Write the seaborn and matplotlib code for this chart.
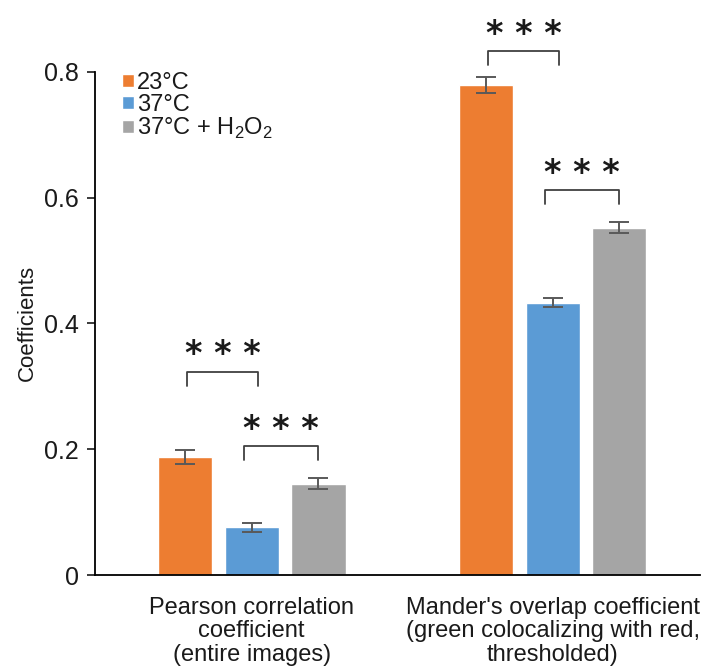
import pandas as pd
import seaborn as sns
import matplotlib.pyplot as plt

CATEGORIES = ['Pearson correlation\ncoefficient\n(entire images)',
              "Mander's overlap coefficient\n(green colocalizing with red,\nthresholded)"]
CONDITIONS = ['23°C', '37°C', '37°C + H$_2$O$_2$']
MEANS = {
    '23°C': [0.188, 0.779],
    '37°C': [0.076, 0.433],
    '37°C + H$_2$O$_2$': [0.145, 0.552],
}
ERRORS = {
    '23°C': [0.011, 0.012],
    '37°C': [0.007, 0.007],
    '37°C + H$_2$O$_2$': [0.009, 0.009],
}
# (category index, hue index a, hue index b, bracket top)
BRACKETS = [(0, 0, 1, 0.323), (0, 1, 2, 0.205), (1, 0, 1, 0.833), (1, 1, 2, 0.612)]
COLORS = ['#ED7D31', '#5B9BD5', '#A5A5A5']

rows = []
for cond in CONDITIONS:
    for i, cat in enumerate(CATEGORIES):
        rows.append({'category': cat, 'condition': cond, 'value': MEANS[cond][i], 'err': ERRORS[cond][i]})
df = pd.DataFrame(rows)

sns.set_style('white')
plt.rcParams['font.family'] = ['Liberation Sans', 'DejaVu Sans']
plt.rcParams['mathtext.fontset'] = 'custom'
plt.rcParams['mathtext.rm'] = 'Liberation Sans'
plt.rcParams['text.color'] = '#1a1a1a'
plt.rcParams['axes.labelcolor'] = '#1a1a1a'
plt.rcParams['xtick.color'] = '#1a1a1a'
plt.rcParams['ytick.color'] = '#1a1a1a'

fig = plt.figure(figsize=(7.05, 6.71), dpi=100)
ax = fig.add_axes([0.135, 0.143, 0.858, 0.750])

sns.barplot(data=df, x='category', y='value', hue='condition', order=CATEGORIES,
            hue_order=CONDITIONS, palette=COLORS, width=0.666, gap=0.19,
            errorbar=None, saturation=1, ax=ax)

centers = {}
bar_groups = list(ax.containers)
for h, cont in enumerate(bar_groups):
    cond = CONDITIONS[h]
    for i, bar in enumerate(cont):
        x = bar.get_x() + bar.get_width() / 2
        centers[(i, h)] = x
        ax.errorbar(x, MEANS[cond][i], yerr=ERRORS[cond][i], color='#595959',
                    capsize=7, elinewidth=1.4, capthick=1.4)

for cat, a, b, top in BRACKETS:
    xa, xb = centers[(cat, a)], centers[(cat, b)]
    if a == 0:
        xa, xb = xa + 0.008, xb + 0.02
    else:
        xa = xa - 0.025
    ax.plot([xa, xa, xb, xb], [top - 0.022, top, top, top - 0.022], color='#404040',
            lw=1.3, clip_on=False)
    ax.text((xa + xb) / 2, top + 0.027, '* * *', ha='center', va='center',
            fontsize=24, family='DejaVu Sans', fontweight='bold', clip_on=False)

ax.set_ylim(0, 0.8)
ax.set_xlim(-0.52, 1.49)
ax.set_yticks([0, 0.2, 0.4, 0.6, 0.8])
ax.set_yticklabels(['0', '0.2', '0.4', '0.6', '0.8'])
ax.tick_params(axis='y', left=True, direction='out', length=6, width=1.2, labelsize=18, pad=6)
ax.tick_params(axis='x', bottom=False, labelsize=17, pad=12)
for lab in ax.get_xticklabels():
    lab.set_linespacing(1.1)
ax.set_xlabel('')
ax.set_ylabel('Coefficients', fontsize=16, labelpad=4)
sns.despine(ax=ax)
for s in ['left', 'bottom']:
    ax.spines[s].set_color('black')
    ax.spines[s].set_linewidth(1.3)

leg = ax.legend(loc='upper left', bbox_to_anchor=(0.044, 1.0), frameon=False, fontsize=17,
                handlelength=0.5, handleheight=0.5, handletextpad=0.15, labelspacing=0.0,
                borderaxespad=0, borderpad=0)

fig.savefig('out.png', dpi=100)
